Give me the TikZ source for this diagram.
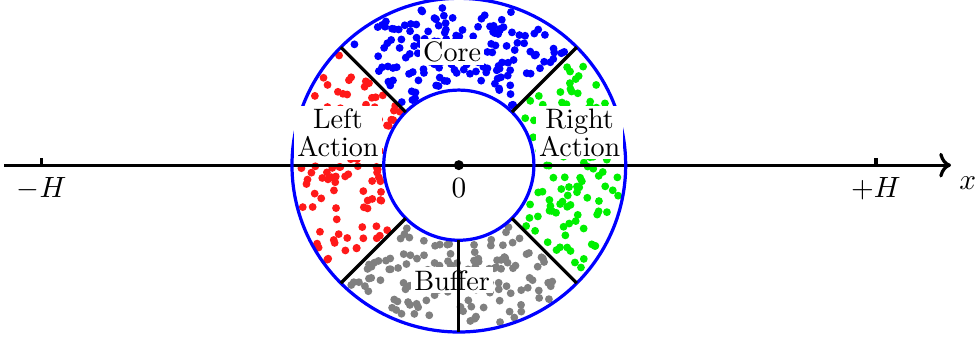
\documentclass[tikz,border=0pt]{standalone}
\usetikzlibrary{arrows.meta}
\definecolor{dotgreen}{RGB}{0,240,0}
\definecolor{dotred}{RGB}{255,25,25}
\definecolor{dotgray}{RGB}{128,128,128}
\tikzset{
  ring/.style={draw=blue,line width=1.1pt},
  divider/.style={draw=black,line width=1.1pt},
  zone/.style={fill=white,inner sep=1pt,align=center,font=\fontsize{9.6}{9.4}\selectfont},
  axisline/.style={->,line width=1.1pt},
  hmark/.style={line width=1.1pt},
}
% random dots in one quarter of the ring
\newcommand{\sprinkle}[3]{%
  \foreach \k in {1,...,#3}{%
    \pgfmathsetmacro{\ang}{#2+2+86*rnd}%
    \pgfmathsetmacro{\rad}{sqrt(0.95^2+(1.95^2-0.95^2)*rnd)}%
    \fill[#1] (\ang:\rad) circle (0.047);
  }}

\begin{document}
\begin{tikzpicture}
  \useasboundingbox (-5.5,-2.075) rectangle (6.235,1.98);
  \pgfmathsetseed{11}
  \sprinkle{blue}{45}{150}
  \sprinkle{dotred}{135}{110}
  \sprinkle{dotgreen}{-45}{110}
  \sprinkle{dotgray}{225}{140}
  % axis
  \coordinate (xl) at (-5.45,0);
  \coordinate (xr) at (5.9,0);
  \draw[axisline] (xl) -- (xr);
  \node (xlab) at (6.1,-0.22) {$x$};
  \foreach \p/\t in {-5/{$-H$},5/{$+H$}} {
    \draw[hmark] (\p,0) -- (\p,0.09);
    \node at (\p,-0.28) {\t};
  }
  \fill (0,0) circle (0.06);
  \node (zero) at (0,-0.28) {$0$};
  % ring
  \draw[ring] (0,0) circle (2);
  \draw[ring] (0,0) circle (0.9);
  \foreach \a in {45,135,225,315} \draw[divider] (\a:0.9) -- (\a:2);
  \node[zone] (core) at (-0.08,1.36) {Core};
  \node[zone] (left) at (165:1.5) {Left\\Action};
  \node[zone] (right) at (15:1.5) {Right\\Action};
  \node[zone] (buffer) at (-0.08,-1.38) {Buffer};
  \draw[divider] (270:0.9) -- (270:2);
\end{tikzpicture}
\end{document}
